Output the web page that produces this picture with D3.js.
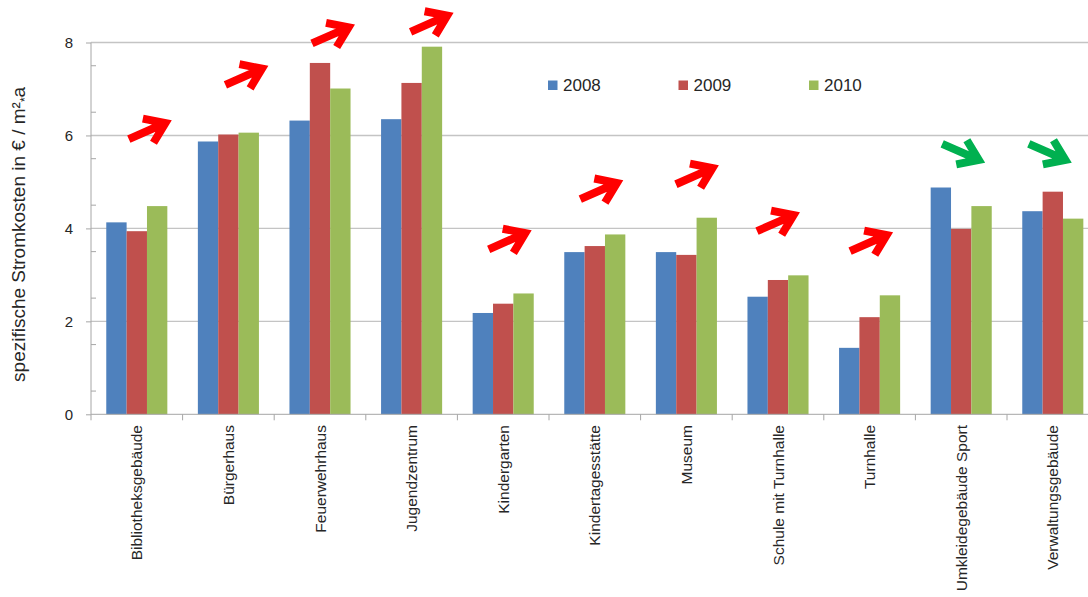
<!DOCTYPE html>
<html>
<head>
<meta charset="utf-8">
<script src="https://cdn.jsdelivr.net/npm/d3@7"></script>
<style>
  body { margin: 0; background: #fff; }
  svg { display: block; font-family: 'Liberation Sans', Arial, sans-serif; }
</style>
</head>
<body>
<svg id="chart"></svg>
<script>
// chart values
const categories = ['Bibliotheksgebäude', 'Bürgerhaus', 'Feuerwehrhaus', 'Jugendzentrum', 'Kindergarten',
  'Kindertagesstätte', 'Museum', 'Schule mit Turnhalle', 'Turnhalle', 'Umkleidegebäude Sport', 'Verwaltungsgebäude'];
const years = ['2008', '2009', '2010'];
const values2008 = [4.13, 5.87, 6.32, 6.35, 2.18, 3.49, 3.49, 2.53, 1.43, 4.88, 4.37];
const values2009 = [3.94, 6.02, 7.56, 7.13, 2.38, 3.62, 3.43, 2.89, 2.09, 3.99, 4.79];
const values2010 = [4.48, 6.06, 7.01, 7.91, 2.60, 3.87, 4.23, 2.99, 2.56, 4.48, 4.21];
const yTicks = [0, 2, 4, 6, 8];
const trend = ['up', 'up', 'up', 'up', 'up', 'up', 'up', 'up', 'up', 'down', 'down'];
const colors = ['#4f81bd', '#c0504d', '#9bbb59'];

// annotation placement: arrow tail level (axis units) and x shift from category centre (px)
const arrowLevel = [5.92, 7.09, 7.98, 8.23, 3.55, 4.63, 4.95, 3.94, 3.51, 5.82, 5.82];
const arrowShift = [-8, -3, -8, -1, -14.5, -14.5, -10.5, -21, -19.5, -19, -24];

const table = categories.map((c, i) => ({
  category: c,
  values: [values2008[i], values2009[i], values2010[i]]
}));

const width = 1088, height = 597;
const plot = {left: 91, right: 1098.6, top: 42.5, bottom: 414.3};

const svg = d3.select('#chart')
  .attr('width', width)
  .attr('height', height);

const x = d3.scaleBand()
  .domain(categories)
  .range([plot.left, plot.right]);

const step = x.bandwidth();
const barW = step / 4.5;
const xSub = d3.scaleBand()
  .domain(years)
  .range([barW * 0.75, step - barW * 0.75]);

const y = d3.scaleLinear()
  .domain([0, 8])
  .range([plot.bottom, plot.top]);

// gridlines
svg.append('g')
  .selectAll('line')
  .data(yTicks.filter(d => d > 0))
  .join('line')
  .attr('x1', plot.left)
  .attr('x2', width)
  .attr('y1', d => y(d))
  .attr('y2', d => y(d))
  .attr('stroke', '#c4c4c4')
  .attr('stroke-width', 1.4);

// bars
const groups = svg.append('g')
  .selectAll('g')
  .data(table)
  .join('g')
  .attr('transform', d => `translate(${x(d.category)},0)`);

groups.selectAll('rect')
  .data(d => d.values.map((v, i) => ({year: years[i], value: v, i: i})))
  .join('rect')
  .attr('x', d => xSub(d.year))
  .attr('width', xSub.bandwidth())
  .attr('y', d => y(d.value))
  .attr('height', d => y(0) - y(d.value))
  .attr('fill', d => colors[d.i]);

// y axis
const yAxis = d3.axisLeft(y)
  .tickValues(yTicks)
  .tickFormat(d3.format('d'))
  .tickSize(5)
  .tickPadding(13);

const yAxisG = svg.append('g')
  .attr('transform', `translate(${plot.left},0)`)
  .call(yAxis);

yAxisG.select('.domain').remove();
yAxisG.selectAll('.tick line').attr('stroke', '#a6a6a6');
yAxisG.selectAll('.tick text')
  .attr('fill', '#262626')
  .style('font-size', '15px');

// minor ticks inside
svg.append('g')
  .selectAll('line')
  .data(d3.range(0.5, 8, 1))
  .join('line')
  .attr('x1', plot.left)
  .attr('x2', plot.left + 5)
  .attr('y1', d => y(d))
  .attr('y2', d => y(d))
  .attr('stroke', '#a6a6a6');

svg.append('line')
  .attr('x1', plot.left).attr('x2', plot.left)
  .attr('y1', y(8)).attr('y2', y(0))
  .attr('stroke', '#a6a6a6');

// x axis
svg.append('line')
  .attr('x1', plot.left).attr('x2', width)
  .attr('y1', y(0)).attr('y2', y(0))
  .attr('stroke', '#a6a6a6');

svg.append('g')
  .selectAll('line')
  .data(categories)
  .join('line')
  .attr('x1', d => x(d))
  .attr('x2', d => x(d))
  .attr('y1', y(0))
  .attr('y2', y(0) + 6)
  .attr('stroke', '#a6a6a6');

svg.append('g')
  .selectAll('text')
  .data(categories)
  .join('text')
  .attr('transform', d => `translate(${x(d) + step / 2},425) rotate(-90)`)
  .attr('text-anchor', 'end')
  .attr('dy', '0.36em')
  .attr('fill', '#262626')
  .style('font-size', '15.5px')
  .text(d => d);

// y axis title
const yTitle = svg.append('text')
  .attr('transform', `translate(25,${(plot.top + plot.bottom) / 2 + 6}) rotate(-90)`)
  .attr('text-anchor', 'middle')
  .attr('fill', '#262626')
  .style('font-size', '19px');
yTitle.append('tspan').text('spezifische Stromkosten in € / m²');
yTitle.append('tspan').attr('dy', 4).style('font-size', '12px').text('*');
yTitle.append('tspan').attr('dy', -4).text('a');

// legend
const legend = svg.append('g')
  .selectAll('g')
  .data(years)
  .join('g')
  .attr('transform', (d, i) => `translate(${548 + i * 130.5},80.5)`);

legend.append('rect')
  .attr('width', 9.5)
  .attr('height', 9.5)
  .attr('fill', (d, i) => colors[i]);

legend.append('text')
  .attr('x', 15)
  .attr('y', 10.5)
  .attr('fill', '#262626')
  .style('font-size', '17px')
  .text(d => d);

// trend arrows
const ang = 23.8 * Math.PI / 180;
const shaft = 40;
const arm = 23;
const armAng = 35 * Math.PI / 180;

function arrowPath(i) {
  const tx = x(categories[i]) + step / 2 + arrowShift[i];
  const ty = y(arrowLevel[i]);
  const a = trend[i] === 'up' ? -ang : ang;
  const hx = tx + shaft * Math.cos(a);
  const hy = ty + shaft * Math.sin(a);
  const back = a + Math.PI;
  const a1x = hx + arm * Math.cos(back + armAng), a1y = hy + arm * Math.sin(back + armAng);
  const a2x = hx + arm * Math.cos(back - armAng), a2y = hy + arm * Math.sin(back - armAng);
  return `M${tx},${ty}L${hx},${hy}M${a1x},${a1y}L${hx},${hy}L${a2x},${a2y}`;
}

svg.append('g')
  .selectAll('path')
  .data(d3.range(categories.length))
  .join('path')
  .attr('d', d => arrowPath(d))
  .attr('fill', 'none')
  .attr('stroke', d => trend[d] === 'up' ? '#ff0000' : '#00b050')
  .attr('stroke-width', 8)
  .attr('stroke-linejoin', 'miter')
  .attr('stroke-linecap', 'butt');
</script>
</body>
</html>
